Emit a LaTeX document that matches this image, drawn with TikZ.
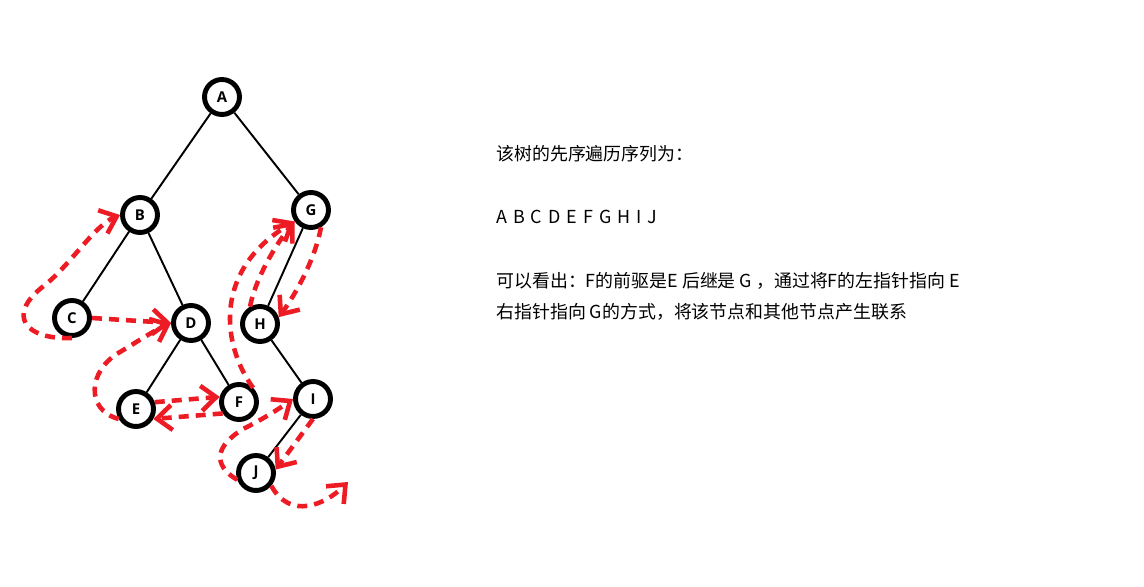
\documentclass[tikz,border=0pt]{standalone}
\usepackage{fontspec}
\setmainfont{Noto Sans CJK SC}
\newfontfamily\letterfont{Open Sans}
\usepackage{tikz}
\usetikzlibrary{arrows.meta,positioning}
\definecolor{threadred}{RGB}{237,28,36}

\begin{document}
\begin{tikzpicture}[x=0.02cm, y=-0.02cm,
  tnode/.style={circle, draw=black, line width=2.8pt, fill=white, minimum size=0.7cm,
    inner sep=0pt, font=\letterfont\bfseries\fontsize{8.5}{8.5}\selectfont},
  tedge/.style={black, line width=1.1pt},
  thr/.style={threadred, line width=2.6pt, dash pattern=on 5.7pt off 4pt,
    -{Straight Barb[length=3mm, width=5mm]}},
  txt/.style={anchor=west, inner sep=0pt, font=\fontsize{10.2}{12}\selectfont}]
\useasboundingbox (0,0) rectangle (1144,587);
% tree
\node[tnode] (A) at (222,97) {A};
\node[tnode] (B) at (140,215) {B};
\node[tnode] (G) at (311,210) {G};
\node[tnode] (C) at (72,318) {C};
\node[tnode] (D) at (191,323) {D};
\node[tnode] (H) at (260,324) {H};
\node[tnode] (E) at (136,409) {E};
\node[tnode] (F) at (239,402) {F};
\node[tnode] (I) at (313,399) {I};
\node[tnode] (J) at (256,473) {J};
\foreach \a/\b in {A/B,A/G,B/C,B/D,D/E,D/F,G/H,H/I,I/J}
  \draw[tedge] (\a) -- (\b);
\coordinate (jend) at (348,482);
% threads
\draw[thr] (C.south) .. controls (25,340) and (5,315) .. (45,285)
  .. controls (70,265) and (95,225) .. (B.west);
\draw[thr] (C.east) -- (D.west);
\draw[thr] (E.-150) .. controls (85,410) and (88,370) .. (120,352)
  .. controls (140,340) and (155,330) .. (D.west);
\draw[thr] (E.20) -- (F.165);
\draw[thr] (F.215) -- (E.-30);
\draw[thr] (F.45) .. controls (222,345) and (212,270) .. (G.215);
\draw[thr] (H.120) .. controls (255,280) and (275,245) .. (G.215);
\draw[thr] (G.-60) .. controls (315,260) and (295,295) .. (H.20);
\draw[thr] (J.200) .. controls (212,465) and (215,445) .. (245,428)
  .. controls (265,418) and (280,408) .. (I.west);
\draw[thr] (I.-90) -- (J.10);
\draw[thr] (J.-40) .. controls (290,520) and (325,505) .. (jend);
% text
\node[txt] (title) at (496,154) {该树的先序遍历序列为：};
\node[txt] (seq) at (496,217) {A\,\,B\,\,C\,\,D\,\,E\,\,F\,\,G\,\,H\,\,I\,\,J};
\node[txt] (note1) at (496,281) {可以看出：F的前驱是E 后继是 G ，通过将F的左指针指向 E};
\node[txt] (note2) at (496,312) {右指针指向 G的方式，将该节点和其他节点产生联系};
\end{tikzpicture}
\end{document}
